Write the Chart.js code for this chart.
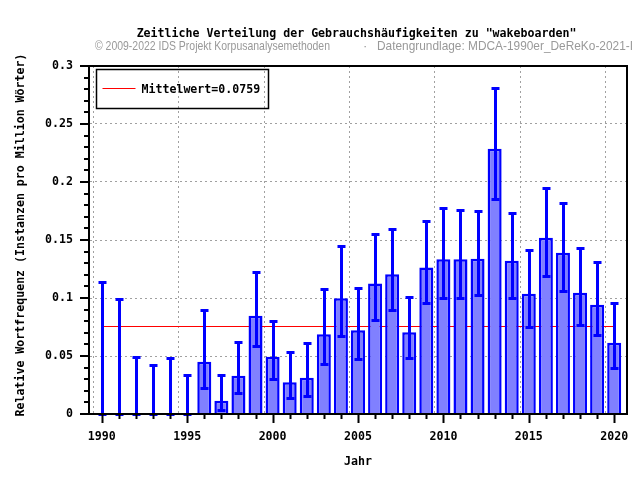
<!DOCTYPE html>
<html><head><meta charset="utf-8">
<script src="https://cdn.jsdelivr.net/npm/chart.js@4/dist/chart.umd.min.js"></script>
<style>html,body{margin:0;padding:0;background:#fff;}canvas{display:block;}</style>
</head><body>
<canvas id="c" width="640" height="480"></canvas>
<script>
// ---- data ----
const years = [1990,1991,1992,1993,1994,1995,1996,1997,1998,1999,2000,2001,2002,2003,2004,2005,2006,2007,2008,2009,2010,2011,2012,2013,2014,2015,2016,2017,2018,2019,2020];
const freq  = [0,0,0,0,0,0,0.0451,0.0115,0.0330,0.0848,0.0494,0.0273,0.0313,0.0687,0.0997,0.0721,0.1126,0.1204,0.0704,0.1264,0.1333,0.1333,0.1339,0.2287,0.1322,0.1037,0.1520,0.1390,0.1046,0.0942,0.0615];
const upper = [0.1138,0.0994,0.0494,0.0425,0.0486,0.0339,0.0897,0.0339,0.0624,0.1227,0.0805,0.0534,0.0612,0.1080,0.1451,0.1089,0.1555,0.1598,0.1011,0.1667,0.1779,0.1761,0.1753,0.2813,0.1735,0.1416,0.1951,0.1822,0.1434,0.1313,0.0960];
const lower = [0,0,0,0,0,0,0.0227,0.0034,0.0181,0.0586,0.0305,0.0138,0.0155,0.0434,0.0675,0.0477,0.0813,0.0899,0.0486,0.0960,0.1003,0.1000,0.1026,0.1853,0.1000,0.0750,0.1190,0.1063,0.0767,0.0681,0.0399];
const meanValue = 0.0759;
const meanLabel = 'Mittelwert=0.0759';
const xMajorTicks = [1990,1995,2000,2005,2010,2015,2020];
const xTickLabels = ['1990','1995','2000','2005','2010','2015','2020'];
const yMajorTicks = [0,0.05,0.1,0.15,0.2,0.25,0.3];
const yTickLabels = ['0','0.05','0.1','0.15','0.2','0.25','0.3'];
const yMinorTicks = [0,0.01,0.02,0.03,0.04,0.05,0.06,0.07,0.08,0.09,0.1,0.11,0.12,0.13,0.14,0.15,0.16,0.17,0.18,0.19,0.2,0.21,0.22,0.23,0.24,0.25,0.26,0.27,0.28,0.29,0.3];
const titleText = 'Zeitliche Verteilung der Gebrauchshäufigkeiten zu "wakeboarden"';
const creditLeft = '© 2009-2022 IDS Projekt Korpusanalysemethoden';
const creditRight = 'Datengrundlage: MDCA-1990er_DeReKo-2021-I';
const xTitle = 'Jahr';
const yTitle = 'Relative Wortfrequenz (Instanzen pro Million Wörter)';

const MONO = "'DejaVu Sans Mono', monospace";
const FS = 11.6;
const monoFont = {family: MONO, size: FS, weight: 'bold'};
const GRID = '#a0a0a0';
const near = (a, b) => Math.abs(a - b) < 1e-6;
const isMajorY = v => yMajorTicks.some(m => near(m, v));
const isMajorX = v => xMajorTicks.includes(v);

const decor = {
  id: 'decor',
  beforeDraw(chart) {
    const ctx = chart.ctx, a = chart.chartArea;
    ctx.save();
    ctx.fillStyle = '#000';
    ctx.font = "bold " + FS + "px " + MONO;
    ctx.textAlign = 'center';
    ctx.textBaseline = 'middle';
    ctx.fillText(titleText, 356.5, 34);
    ctx.fillText(xTitle, (a.left + a.right) / 2, 462);
    ctx.save();
    ctx.translate(20.5, 235);
    ctx.rotate(-Math.PI / 2);
    ctx.fillText(yTitle, 0, 0);
    ctx.restore();
    ctx.font = "13px 'Liberation Sans', Arial, sans-serif";
    ctx.fillStyle = '#999999';
    ctx.textAlign = 'left';
    ctx.fillText(creditLeft, 95, 46.5, 235);
    ctx.fillText('·', 363, 46.5);
    ctx.fillText(creditRight, 377, 46.5, 256);
    ctx.restore();
  },
  beforeDatasetDraw(chart, args) {
    if (args.meta.type === 'line') {
      const y = chart.scales.y.getPixelForValue(meanValue);
      chart.ctx.save();
      chart.ctx.translate(0, Math.round(y) + 0.5 - y);
    }
  },
  afterDatasetDraw(chart, args) {
    if (args.meta.type === 'line') chart.ctx.restore();
  },
  afterDatasetsDraw(chart) {
    const ctx = chart.ctx, xs = chart.scales.x, ys = chart.scales.y;
    ctx.save();
    ctx.strokeStyle = '#0000ff';
    ctx.lineWidth = 3;
    years.forEach((yr, i) => {
      const px = Math.round(xs.getPixelForValue(yr)) + 0.5;
      const pt = Math.round(ys.getPixelForValue(upper[i])) + 0.5;
      const pb = Math.round(ys.getPixelForValue(lower[i])) + 0.5;
      ctx.beginPath();
      ctx.moveTo(px, pt); ctx.lineTo(px, pb);
      ctx.moveTo(px - 4, pt); ctx.lineTo(px + 4, pt);
      ctx.moveTo(px - 4, pb); ctx.lineTo(px + 4, pb);
      ctx.stroke();
    });
    ctx.restore();
  },
  afterDraw(chart) {
    const ctx = chart.ctx, a = chart.chartArea, xs = chart.scales.x, ys = chart.scales.y;
    ctx.save();
    ctx.strokeStyle = '#000';
    ctx.lineWidth = 2;
    ctx.strokeRect(a.left, a.top, a.right - a.left, a.bottom - a.top);
    ctx.beginPath();
    yMinorTicks.forEach(v => {
      const py = Math.round(ys.getPixelForValue(v));
      const len = isMajorY(v) ? 9 : 5;
      ctx.moveTo(a.left - len, py); ctx.lineTo(a.left, py);
    });
    years.forEach(v => {
      const px = Math.round(xs.getPixelForValue(v)) + 0.5;
      const len = isMajorX(v) ? 9 : 5;
      ctx.moveTo(px, a.bottom); ctx.lineTo(px, a.bottom + len);
    });
    ctx.stroke();
    const lx = a.left + 7.5, ly = a.top + 3.5;
    ctx.lineWidth = 1.5;
    ctx.strokeRect(lx, ly, 172, 39);
    ctx.strokeStyle = '#ff0000';
    ctx.lineWidth = 1;
    ctx.beginPath();
    ctx.moveTo(lx + 6, ly + 19); ctx.lineTo(lx + 39, ly + 19);
    ctx.stroke();
    ctx.fillStyle = '#000';
    ctx.font = "bold " + FS + "px " + MONO;
    ctx.textAlign = 'left';
    ctx.textBaseline = 'middle';
    ctx.fillText(meanLabel, lx + 45, ly + 20);
    ctx.restore();
  }
};

new Chart(document.getElementById('c'), {
  type: 'bar',
  data: {
    datasets: [
      {
        type: 'bar',
        label: 'Frequenz',
        data: years.map((y, i) => ({x: y, y: freq[i]})),
        backgroundColor: '#8080ff',
        borderColor: '#0000ff',
        borderWidth: 2.5,
        borderSkipped: 'start',
        barPercentage: 0.82,
        categoryPercentage: 1.0,
        order: 1
      },
      {
        type: 'line',
        label: meanLabel,
        data: [{x: years[0], y: meanValue}, {x: years[years.length - 1], y: meanValue}],
        borderColor: '#ff0000',
        borderWidth: 1,
        pointRadius: 0,
        fill: false,
        order: 2
      }
    ]
  },
  options: {
    responsive: false,
    animation: false,
    devicePixelRatio: 1,
    layout: {padding: {left: 0, right: 13, top: 66, bottom: 0}},
    plugins: {legend: {display: false}, tooltip: {enabled: false}, title: {display: false}},
    scales: {
      x: {
        type: 'linear', min: 1989.25, max: 2020.75, offset: false,
        afterBuildTicks: s => { s.ticks = years.map(v => ({value: v})); },
        afterFit: s => { s.height = 66; s.paddingLeft = 0; s.paddingRight = 0; },
        grid: {
          drawTicks: false,
          color: c => (c.tick && isMajorX(c.tick.value)) ? GRID : 'rgba(0,0,0,0)',
          lineWidth: 1
        },
        border: {display: true, color: '#000', width: 2, dash: [2, 3]},
        ticks: {
          autoSkip: false, maxRotation: 0, minRotation: 0, padding: 16,
          color: '#000', font: monoFont,
          callback: v => { const k = xMajorTicks.indexOf(v); return k >= 0 ? xTickLabels[k] : ''; }
        },
        title: {display: false}
      },
      y: {
        type: 'linear', min: 0, max: 0.3,
        afterBuildTicks: s => { s.ticks = yMinorTicks.map(v => ({value: v})); },
        afterFit: s => { s.width = 89; s.paddingTop = 0; s.paddingBottom = 0; },
        grid: {
          drawTicks: false,
          color: c => (c.tick && isMajorY(c.tick.value) && c.tick.value > 0.001 && c.tick.value < 0.299) ? GRID : 'rgba(0,0,0,0)',
          lineWidth: 1
        },
        border: {display: true, color: '#000', width: 2, dash: [2, 3]},
        ticks: {
          autoSkip: false, padding: 16, color: '#000', font: monoFont,
          callback: v => { const k = yMajorTicks.findIndex(m => near(m, v)); return k >= 0 ? yTickLabels[k] : ''; }
        },
        title: {display: false}
      }
    }
  },
  plugins: [decor]
});
</script>
</body></html>
